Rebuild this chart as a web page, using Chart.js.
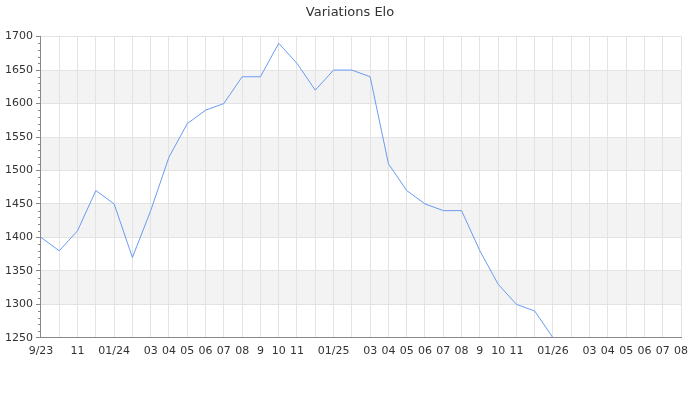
<!DOCTYPE html>
<html>
<head>
<meta charset="utf-8">
<script src="https://cdn.jsdelivr.net/npm/chart.js@4/dist/chart.umd.min.js"></script>
<style>
  html, body { margin: 0; padding: 0; background: #fff; }
  #wrap { width: 700px; height: 400px; }
</style>
</head>
<body>
<div id="wrap"><canvas id="elo"></canvas></div>
<script>
// one point per month, Sep 2023 .. Aug 2026
const months = [
  '2023-09', '2023-10', '2023-11', '2023-12', '2024-01', '2024-02', '2024-03', '2024-04', '2024-05',
  '2024-06', '2024-07', '2024-08', '2024-09', '2024-10', '2024-11', '2024-12', '2025-01', '2025-02',
  '2025-03', '2025-04', '2025-05', '2025-06', '2025-07', '2025-08', '2025-09', '2025-10', '2025-11',
  '2025-12', '2026-01', '2026-02', '2026-03', '2026-04', '2026-05', '2026-06', '2026-07', '2026-08'
];
const tickLabels = [
  '9/23', '', '11', '', '01/24', '', '03', '04', '05',
  '06', '07', '08', '9', '10', '11', '', '01/25', '',
  '03', '04', '05', '06', '07', '08', '9', '10', '11',
  '', '01/26', '', '03', '04', '05', '06', '07', '08'
];
const elo = [
  1400, 1380, 1410, 1470, 1450, 1370, 1440, 1520, 1570,
  1590, 1600, 1640, 1640, 1690, 1660, 1620, 1650, 1650,
  1640, 1510, 1470, 1450, 1440, 1440, 1380, 1330, 1300,
  1290, 1250, null, null, null, null, null, null, null
];
const yMin = 1250;
const yMax = 1700;
const yStep = 50;
const yMinorStep = 10;

Chart.defaults.font.family = '"DejaVu Sans", sans-serif';
Chart.defaults.font.size = 11;
Chart.defaults.color = '#333';

// grey bands every other 50 pts, drawn under the grid
const bandsUnder = {
  id: 'bandsUnder',
  beforeDraw(chart) {
    const { ctx, chartArea, scales: { y } } = chart;
    ctx.save();
    ctx.fillStyle = '#f3f3f3';
    for (let v = yMin + yStep; v < yMax; v += yStep * 2) {
      const top = y.getPixelForValue(v + yStep);
      const bot = y.getPixelForValue(v);
      ctx.fillRect(chartArea.left, top, chartArea.right - chartArea.left, bot - top);
    }
    ctx.restore();
  }
};

// small ticks on the y axis between the labelled ones
const minorTicks = {
  id: 'minorTicks',
  afterDraw(chart) {
    const { ctx, chartArea, scales: { y } } = chart;
    ctx.save();
    ctx.strokeStyle = '#888';
    ctx.lineWidth = 1;
    ctx.beginPath();
    for (let v = yMin; v <= yMax; v += yMinorStep) {
      if (v % yStep === 0) continue;
      const py = Math.round(y.getPixelForValue(v)) + 0.5;
      ctx.moveTo(chartArea.left - 3, py);
      ctx.lineTo(chartArea.left, py);
    }
    ctx.stroke();
    ctx.restore();
  }
};

// centre the title on the whole canvas, not on the padded box
const titleFullWidth = {
  id: 'titleFullWidth',
  afterLayout(chart) {
    const t = chart.titleBlock;
    if (!t) return;
    t.left = 0;
    t.right = chart.width;
    t.width = chart.width;
  }
};

new Chart(document.getElementById('elo'), {
  type: 'line',
  data: {
    labels: months,
    datasets: [{
      label: 'Elo',
      data: elo,
      borderColor: '#6b9bf2',
      borderWidth: 1,
      pointRadius: 0,
      tension: 0,
      fill: false,
      spanGaps: false
    }]
  },
  options: {
    responsive: true,
    maintainAspectRatio: false,
    animation: false,
    layout: { padding: { left: 2, right: 19, top: 0, bottom: 35 } },
    plugins: {
      legend: { display: false },
      tooltip: { enabled: false },
      title: {
        display: true,
        text: 'Variations Elo',
        color: '#333',
        font: { size: 13, weight: 'normal' },
        padding: { top: 5, bottom: 16 }
      }
    },
    scales: {
      x: {
        offset: false,
        grid: { color: '#e3e3e3', drawTicks: false },
        border: { color: '#888' },
        ticks: {
          autoSkip: false,
          maxRotation: 0,
          padding: 7,
          callback: (val, i) => tickLabels[i]
        }
      },
      y: {
        min: yMin,
        max: yMax,
        grid: { color: '#e3e3e3', tickColor: '#888', tickLength: 5 },
        border: { color: '#888' },
        ticks: { stepSize: yStep, padding: 3, callback: v => String(v) }
      }
    }
  },
  plugins: [bandsUnder, minorTicks, titleFullWidth]
});
</script>
</body>
</html>
